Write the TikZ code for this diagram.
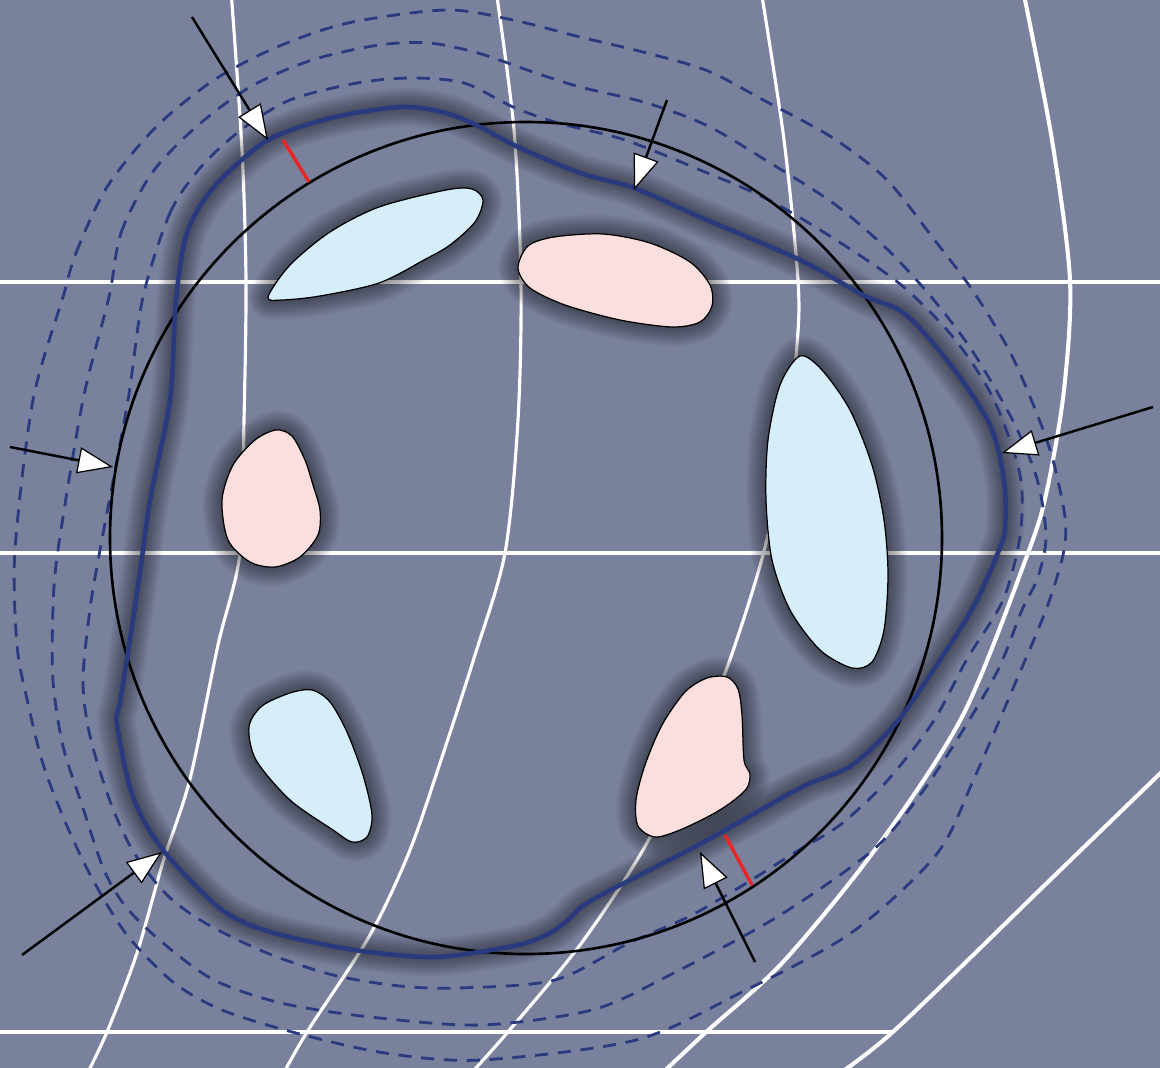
\documentclass[tikz,border=0pt]{standalone}
\usetikzlibrary{arrows.meta}
\definecolor{slate}{RGB}{122,129,157}
\definecolor{ink}{RGB}{42,58,126}
\definecolor{ice}{RGB}{214,238,250}
\definecolor{rose}{RGB}{251,222,222}
\definecolor{cut}{RGB}{232,40,40}
\def\front{plot[smooth cycle] coordinates {(335,117) (402,107) (446,113) (480,127) (518,147) (580,173) (634,188) (700,217) (800,260) (863,295) (905,314) (950,364) (990,425) (1004,480) (1005,529) (997,555) (977,600) (953,640) (900,718) (852,765) (800,788) (700,844) (592,900) (568,920) (550,933) (518,945) (436,957) (355,950) (274,933) (222,910) (163,850) (133,797) (117,725) (120,703) (127,659) (140,572) (150,500) (170,400) (176,300) (187,233) (214,187) (268,140)}}
\def\blobA{plot[smooth cycle] coordinates {(268,297) (290,265) (330,232) (379,207) (446,190) (472,189) (483,200) (475,222) (450,245) (424,260) (379,283) (320,296) (282,300)}}
\def\blobB{plot[smooth cycle] coordinates {(800,356) (780,385) (768,440) (766,500) (772,560) (790,610) (820,650) (852,668) (872,662) (884,630) (888,575) (884,520) (872,465) (850,410) (822,370)}}
\def\blobC{plot[smooth cycle] coordinates {(312,690) (290,693) (262,706) (249,727) (256,760) (290,800) (333,830) (352,842) (367,837) (372,815) (363,775) (347,732) (330,702)}}
\def\blobD{plot[smooth cycle] coordinates {(518,268) (528,246) (554,237) (603,234) (650,243) (690,262) (710,285) (712,306) (700,322) (672,327) (620,320) (565,305) (530,288)}}
\def\blobE{plot[smooth cycle] coordinates {(276,430) (255,440) (233,465) (222,500) (228,540) (250,562) (275,567) (300,557) (318,535) (320,510) (313,485) (305,460) (292,436)}}
\def\blobF{plot[smooth cycle] coordinates {(707,678) (727,677) (738,689) (742,715) (744,760) (750,774) (747,788) (733,801) (713,814) (680,830) (655,837) (638,826) (636,800) (645,765) (662,725) (685,692)}}
\begin{document}
\begin{tikzpicture}[x=0.02cm,y=-0.02cm,
  grid/.style={white,line width=1.8pt},
  level/.style={ink,line width=1.6pt,dash pattern=on 7.5pt off 5.5pt},
  halo/.style={black,line join=round,opacity=0.045},
  blob/.style={draw=black,line width=0.7pt},
  pointer/.style={line width=1.4pt,-{Triangle[length=20pt,width=15pt,fill=white,line width=0.7pt]}}]
  \useasboundingbox (0,0) rectangle (1160,1068);
  \clip (0,0) rectangle (1160,1068);
  \fill[slate] (0,0) rectangle (1160,1068);

  \draw[grid,line width=2.3pt] (0,282) -- (1160,282);
  \draw[grid,line width=2.3pt] (0,553) -- (1160,553);
  \draw[grid] (0,1032) -- (893,1032);
  \draw[grid] plot[smooth] coordinates {(231,-10) (242,150) (246,282) (244,420) (240,553) (218,645) (190,779) (163,862) (137,953) (107,1032) (84,1080)};
  \draw[grid] plot[smooth] coordinates {(496,-10) (514,130) (521,282) (518,420) (505,553) (475,655) (443,754) (410,850) (370,935) (307,1032) (280,1080)};
  \draw[grid] plot[smooth] coordinates {(761,-10) (784,140) (798,280) (797,345) (785,450) (763,555) (728,665) (690,755) (643,850) (580,945) (507,1033) (465,1080)};
  \draw[grid,line width=2.3pt] plot[smooth] coordinates {(1023,-10) (1052,140) (1070,280) (1064,390) (1047,490) (1028,553) (963,715) (877,847) (783,962) (705,1033) (655,1080)};
  \draw[grid,line width=2.3pt] plot[smooth] coordinates {(1172,762) (1050,880) (895,1030) (830,1080)};

  \foreach \w in {2,4,...,22} {
    \draw[halo,line width=\w pt] \front;
    \draw[halo,line width=\w pt] \blobA;
    \draw[halo,line width=\w pt] \blobB;
    \draw[halo,line width=\w pt] \blobC;
    \draw[halo,line width=\w pt] \blobD;
    \draw[halo,line width=\w pt] \blobE;
    \draw[halo,line width=\w pt] \blobF;
  }

  \draw[level] plot[smooth cycle] coordinates {(143,297) (170,213) (201,167) (241,130) (290,100) (357,83) (411,78) (464,83) (513,107) (558,123) (625,140) (705,172) (767,199) (833,238) (900,284) (953,337) (993,398) (1020,475) (1020,536) (1003,600) (967,659) (933,722) (887,781) (840,825) (799,850) (740,887) (688,917) (629,943) (555,980) (459,988) (400,986) (333,975) (267,953) (207,924) (167,895) (133,851) (110,801) (90,736) (83,681) (90,609) (100,550) (128,400)};
  \draw[level] plot[smooth cycle] coordinates {(109,297) (121,233) (152,173) (196,127) (250,87) (312,60) (379,45) (429,43) (478,53) (536,73) (580,87) (647,103) (708,126) (767,161) (833,203) (887,249) (933,299) (973,352) (1013,421) (1037,479) (1046,536) (1038,577) (1022,610) (998,670) (960,735) (920,795) (873,850) (777,917) (666,977) (592,1010) (481,1025) (370,1017) (281,1003) (214,980) (163,943) (126,907) (104,870) (83,808) (63,746) (53,681) (53,609) (58,550) (83,400)};
  \draw[level] plot[smooth cycle] coordinates {(63,297) (76,253) (107,187) (156,127) (214,80) (277,47) (348,23) (446,10) (513,20) (580,37) (647,53) (708,71) (767,102) (833,138) (887,180) (933,238) (973,291) (1010,352) (1037,414) (1053,460) (1065,517) (1064,550) (1053,590) (1040,625) (1020,672) (973,781) (936,855) (851,933) (740,993) (636,1040) (481,1060) (385,1053) (296,1033) (222,1010) (173,982) (127,935) (93,880) (67,826) (43,764) (27,699) (17,645) (15,550) (33,400)};

  \draw[black,line width=1.5pt] (526,538) circle (416);
  \draw[ink,line width=2.6pt] \front;

  \fill[ice] \blobA; \draw[blob] \blobA;
  \fill[ice] \blobB; \draw[blob] \blobB;
  \fill[ice] \blobC; \draw[blob] \blobC;
  \fill[rose] \blobD; \draw[blob] \blobD;
  \fill[rose] \blobE; \draw[blob] \blobE;
  \fill[rose] \blobF; \draw[blob] \blobF;

  \coordinate (r1a) at (283,140);
  \coordinate (r1b) at (309,182);
  \coordinate (r2a) at (725,835);
  \coordinate (r2b) at (752,885);
  \draw[cut,line width=2pt] (r1a) -- (r1b);
  \draw[cut,line width=2pt] (r2a) -- (r2b);

  \coordinate (t1) at (192,17);   \coordinate (h1) at (268,140);
  \coordinate (t2) at (667,100);  \coordinate (h2) at (634,190);
  \coordinate (t3) at (10,447);   \coordinate (h3) at (113,467);
  \coordinate (t4) at (1153,407); \coordinate (h4) at (1002,453);
  \coordinate (t5) at (22,955);   \coordinate (h5) at (162,852);
  \coordinate (t6) at (755,962);  \coordinate (h6) at (700,852);
  \draw[pointer] (t1) -- (h1);
  \draw[pointer] (t2) -- (h2);
  \draw[pointer] (t3) -- (h3);
  \draw[pointer] (t4) -- (h4);
  \draw[pointer] (t5) -- (h5);
  \draw[pointer] (t6) -- (h6);
\end{tikzpicture}
\end{document}
